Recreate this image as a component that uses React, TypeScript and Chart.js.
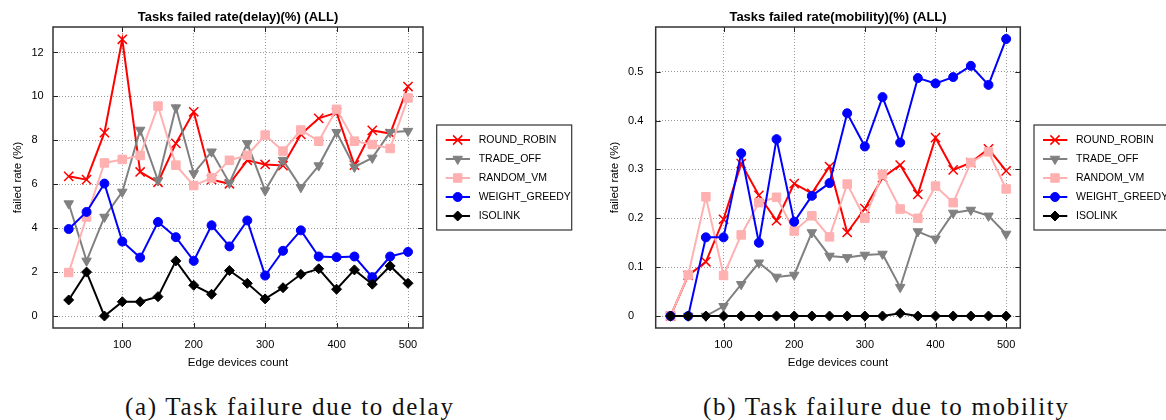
import React, { useEffect, useRef } from 'react';
import { Chart, registerables } from 'chart.js';

Chart.register(...registerables);

const FONT = '"Liberation Sans", Arial, Helvetica, sans-serif';

const EDGE_COUNTS = [25, 50, 75, 100, 125, 150, 175, 200, 225, 250, 275, 300, 325, 350, 375, 400, 425, 450, 475, 500];
const SERIES_NAMES = ['ROUND_ROBIN', 'TRADE_OFF', 'RANDOM_VM', 'WEIGHT_GREEDY', 'ISOLINK'];
const X_TICKS = [100, 200, 300, 400, 500];
const DELAY_Y_TICKS = [0, 2, 4, 6, 8, 10, 12];
const MOBILITY_Y_TICKS = [0, 0.1, 0.2, 0.3, 0.4, 0.5];

const DELAY_ROUND_ROBIN = [6.36, 6.21, 8.35, 12.6, 6.56, 6.09, 7.86, 9.3, 6.21, 6.02, 7.09, 6.9, 6.85, 8.27, 9.0, 9.26, 6.87, 8.45, 8.31, 10.45];
const DELAY_TRADE_OFF = [5.12, 2.51, 4.51, 5.65, 8.47, 6.17, 9.49, 6.49, 7.48, 6.06, 7.86, 5.71, 7.1, 5.86, 6.85, 8.37, 6.79, 7.2, 8.37, 8.42];
const DELAY_RANDOM_VM = [1.98, 4.51, 6.97, 7.13, 7.31, 9.56, 6.87, 5.94, 6.29, 7.09, 7.32, 8.24, 7.51, 8.47, 7.96, 9.41, 7.96, 7.81, 7.63, 9.93];
const DELAY_WEIGHT_GREEDY = [3.96, 4.74, 6.03, 3.39, 2.66, 4.28, 3.59, 2.51, 4.13, 3.17, 4.35, 1.84, 2.97, 3.9, 2.71, 2.68, 2.71, 1.77, 2.71, 2.92];
const DELAY_ISOLINK = [0.73, 2.0, 0.0, 0.65, 0.65, 0.88, 2.51, 1.4, 0.99, 2.07, 1.49, 0.78, 1.29, 1.9, 2.15, 1.22, 2.1, 1.45, 2.28, 1.49];

const MOBILITY_ROUND_ROBIN = [0, 0.083, 0.111, 0.198, 0.312, 0.247, 0.195, 0.271, 0.251, 0.306, 0.171, 0.22, 0.283, 0.309, 0.249, 0.365, 0.299, 0.314, 0.342, 0.297];
const MOBILITY_TRADE_OFF = [0, 0, 0, 0.02, 0.065, 0.109, 0.08, 0.084, 0.171, 0.123, 0.12, 0.125, 0.127, 0.059, 0.173, 0.158, 0.211, 0.217, 0.205, 0.168];
const MOBILITY_RANDOM_VM = [0, 0.084, 0.244, 0.083, 0.166, 0.232, 0.243, 0.174, 0.205, 0.162, 0.27, 0.2, 0.29, 0.219, 0.2, 0.266, 0.232, 0.314, 0.336, 0.26];
const MOBILITY_WEIGHT_GREEDY = [0, 0, 0.161, 0.161, 0.333, 0.15, 0.362, 0.193, 0.246, 0.272, 0.415, 0.347, 0.448, 0.355, 0.487, 0.476, 0.489, 0.512, 0.473, 0.567];
const MOBILITY_ISOLINK = [0, 0, 0, 0, 0, 0, 0, 0, 0, 0, 0, 0, 0, 0.0055, 0, 0, 0, 0, 0, 0];

type MarkerStyle = { color: string; pointStyle: string; radius: number; rotation: number };

const STYLES: MarkerStyle[] = [
  { color: '#ff0000', pointStyle: 'crossRot', radius: 6.5, rotation: 0 },
  { color: '#808080', pointStyle: 'triangle', radius: 5.5, rotation: 180 },
  { color: '#ffb0b0', pointStyle: 'rect', radius: 6, rotation: 0 },
  { color: '#0000ff', pointStyle: 'circle', radius: 4.5, rotation: 0 },
  { color: '#000000', pointStyle: 'rectRot', radius: 5, rotation: 0 },
];

function drawMarker(ctx: CanvasRenderingContext2D, st: MarkerStyle, x: number, y: number) {
  const r = st.radius;
  ctx.save();
  ctx.fillStyle = st.color;
  ctx.strokeStyle = st.color;
  ctx.lineWidth = st.pointStyle === 'crossRot' ? 1.5 : 1;
  ctx.setLineDash([]);
  ctx.beginPath();
  if (st.pointStyle === 'circle') {
    ctx.arc(x, y, r, 0, Math.PI * 2);
    ctx.fill();
    ctx.stroke();
  } else if (st.pointStyle === 'rect') {
    const s = r * Math.SQRT1_2;
    ctx.rect(x - s, y - s, 2 * s, 2 * s);
    ctx.fill();
    ctx.stroke();
  } else if (st.pointStyle === 'rectRot') {
    ctx.moveTo(x, y - r);
    ctx.lineTo(x + r, y);
    ctx.lineTo(x, y + r);
    ctx.lineTo(x - r, y);
    ctx.closePath();
    ctx.fill();
    ctx.stroke();
  } else if (st.pointStyle === 'triangle') {
    ctx.moveTo(x, y + r);
    ctx.lineTo(x - 0.866 * r, y - 0.5 * r);
    ctx.lineTo(x + 0.866 * r, y - 0.5 * r);
    ctx.closePath();
    ctx.fill();
    ctx.stroke();
  } else if (st.pointStyle === 'crossRot') {
    const o = r * Math.SQRT1_2;
    ctx.moveTo(x - o, y - o);
    ctx.lineTo(x + o, y + o);
    ctx.moveTo(x - o, y + o);
    ctx.lineTo(x + o, y - o);
    ctx.stroke();
  }
  ctx.restore();
}

const framePlugin = {
  id: 'gnuFrame',
  afterDraw(chart: any) {
    const { ctx, chartArea } = chart;
    const { left, right, top, bottom } = chartArea;
    const xs = chart.scales.x;
    const ys = chart.scales.y;
    const yTicks: number[] = chart.options.plugins.gnuFrame.yTicks;
    ctx.save();
    ctx.strokeStyle = '#222';
    ctx.lineWidth = 1;
    ctx.setLineDash([]);
    ctx.beginPath();
    X_TICKS.forEach((v) => {
      const px = Math.round(xs.getPixelForValue(v)) + 0.5;
      ctx.moveTo(px, bottom);
      ctx.lineTo(px, bottom - 5);
      ctx.moveTo(px, top);
      ctx.lineTo(px, top + 5);
    });
    yTicks.forEach((v) => {
      const py = Math.round(ys.getPixelForValue(v)) + 0.5;
      ctx.moveTo(left, py);
      ctx.lineTo(left + 5, py);
      ctx.moveTo(right, py);
      ctx.lineTo(right - 5, py);
    });
    ctx.stroke();
    ctx.lineWidth = 1.5;
    ctx.strokeStyle = '#333';
    ctx.strokeRect(left, top, right - left, bottom - top);

    // legend box
    const bx = right + 13.7;
    const by = 125;
    const bw = 135;
    const bh = 105;
    ctx.lineWidth = 1.2;
    ctx.strokeStyle = '#333';
    ctx.strokeRect(bx, by, bw, bh);
    ctx.font = `10.5px ${FONT}`;
    ctx.textBaseline = 'middle';
    ctx.textAlign = 'left';
    SERIES_NAMES.forEach((name, i) => {
      const y = by + 15 + i * 19;
      const st = STYLES[i];
      ctx.strokeStyle = st.color;
      ctx.lineWidth = 2;
      ctx.beginPath();
      ctx.moveTo(bx + 9, y);
      ctx.lineTo(bx + 33.3, y);
      ctx.stroke();
      drawMarker(ctx, st, bx + 21, y);
      ctx.fillStyle = '#000';
      ctx.fillText(name, bx + 42, y);
    });
    ctx.restore();
  },
};

type ChartProps = {
  title: string;
  series: number[][];
  yTicks: number[];
  xMin: number;
  xMax: number;
  yMin: number;
  yMax: number;
  padLeft: number;
  padRight: number;
  yWidth: number;
  yTitlePad: number;
  width: number;
  height: number;
  left: number;
};

function FailChart(props: ChartProps) {
  const ref = useRef<HTMLCanvasElement>(null);
  useEffect(() => {
    const p = props;
    const chart = new Chart(ref.current as HTMLCanvasElement, {
      type: 'line',
      data: {
        datasets: p.series.map((vals, i) => ({
          label: SERIES_NAMES[i],
          data: EDGE_COUNTS.map((x, j) => ({ x, y: vals[j] })),
          borderColor: STYLES[i].color,
          backgroundColor: STYLES[i].color,
          pointBackgroundColor: STYLES[i].color,
          pointBorderColor: STYLES[i].color,
          borderWidth: 2,
          pointStyle: STYLES[i].pointStyle as any,
          pointRadius: STYLES[i].radius,
          pointHoverRadius: STYLES[i].radius,
          pointRotation: STYLES[i].rotation,
          pointBorderWidth: STYLES[i].pointStyle === 'crossRot' ? 1.5 : 1,
          tension: 0,
          fill: false,
          order: 5 - i,
          clip: 10,
        })),
      },
      plugins: [framePlugin],
      options: {
        responsive: false,
        animation: false,
        events: [],
        layout: { padding: { left: p.padLeft, right: p.padRight, top: 0, bottom: 0 } },
        plugins: {
          legend: { display: false },
          tooltip: { enabled: false },
          title: {
            display: true,
            text: p.title,
            fullSize: false,
            color: '#000',
            font: { family: FONT, size: 13, weight: 'bold' },
            padding: { top: 9.2, bottom: 2.2 },
          },
          gnuFrame: { yTicks: p.yTicks },
        } as any,
        scales: {
          x: {
            type: 'linear',
            min: p.xMin,
            max: p.xMax,
            afterBuildTicks: (s: any) => {
              s.ticks = X_TICKS.map((v) => ({ value: v }));
            },
            afterFit: (s: any) => {
              s.height = 47;
            },
            grid: { color: '#9a9a9a', lineWidth: 1, drawTicks: false },
            border: { display: false, dash: [1, 2] },
            ticks: { color: '#000', font: { family: FONT, size: 11 }, padding: 10.4, maxRotation: 0, autoSkip: false },
            title: {
              display: true,
              text: 'Edge devices count',
              color: '#000',
              font: { family: FONT, size: 11.5 },
              padding: { top: 0, bottom: 5.1 },
            },
          },
          y: {
            type: 'linear',
            min: p.yMin,
            max: p.yMax,
            afterBuildTicks: (s: any) => {
              s.ticks = p.yTicks.map((v) => ({ value: v }));
            },
            afterFit: (s: any) => {
              s.width = p.yWidth;
            },
            grid: { color: '#9a9a9a', lineWidth: 1, drawTicks: false },
            border: { display: false, dash: [1, 2] },
            ticks: { color: '#000', font: { family: FONT, size: 11 }, crossAlign: 'far', padding: 4 },
            title: {
              display: true,
              text: 'failed rate (%)',
              color: '#000',
              font: { family: FONT, size: 11.5 },
              padding: { top: p.yTitlePad, bottom: 0 },
            },
          },
        },
      } as any,
    });
    return () => chart.destroy();
  }, []);
  return (
    <canvas
      ref={ref}
      width={props.width}
      height={props.height}
      style={{ position: 'absolute', left: props.left, top: 0, width: props.width, height: props.height }}
    />
  );
}

const captionStyle: React.CSSProperties = {
  position: 'absolute',
  top: 394,
  fontFamily: '"Liberation Serif", "Times New Roman", serif',
  fontSize: 25,
  lineHeight: '25px',
  letterSpacing: '1.7px',
  color: '#111',
  whiteSpace: 'nowrap',
};

export default function App() {
  return (
    <div style={{ position: 'fixed', left: 0, top: 0, width: 1166, height: 420, background: '#fff', overflow: 'hidden' }}>
      <FailChart
        title="Tasks failed rate(delay)(%) (ALL)"
        series={[DELAY_ROUND_ROBIN, DELAY_TRADE_OFF, DELAY_RANDOM_VM, DELAY_WEIGHT_GREEDY, DELAY_ISOLINK]}
        yTicks={DELAY_Y_TICKS}
        xMin={3}
        xMax={521}
        yMin={-0.546}
        yMax={13.16}
        padLeft={31.5}
        padRight={157}
        yWidth={21.5}
        yTitlePad={-20.4}
        width={580}
        height={375}
        left={0}
      />
      <FailChart
        title="Tasks failed rate(mobility)(%) (ALL)"
        series={[MOBILITY_ROUND_ROBIN, MOBILITY_TRADE_OFF, MOBILITY_RANDOM_VM, MOBILITY_WEIGHT_GREEDY, MOBILITY_ISOLINK]}
        yTicks={MOBILITY_Y_TICKS}
        xMin={4}
        xMax={520}
        yMin={-0.0245}
        yMax={0.5915}
        padLeft={48}
        padRight={145.7}
        yWidth={27.7}
        yTitlePad={-19.9}
        width={586}
        height={375}
        left={580}
      />
      <div style={{ ...captionStyle, left: 125 }}>(a) Task failure due to delay</div>
      <div style={{ ...captionStyle, left: 703 }}>(b) Task failure due to mobility</div>
    </div>
  );
}
